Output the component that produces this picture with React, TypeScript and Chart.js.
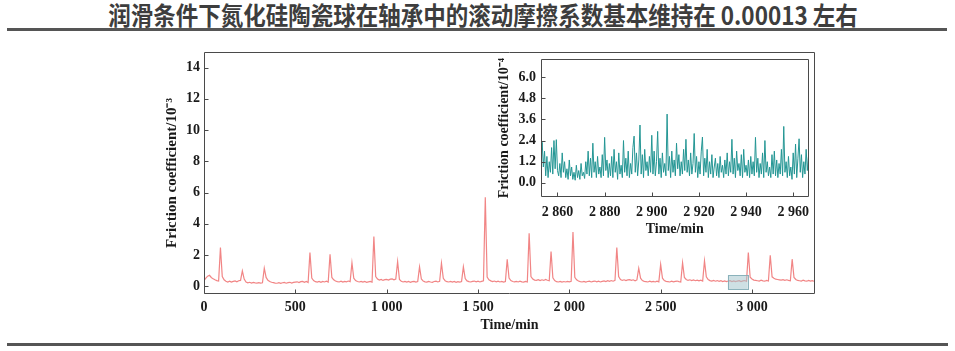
import React, { useEffect, useRef } from "react";
import { Chart, registerables } from "chart.js";
Chart.register(...registerables);

const TITLE = "润滑条件下氮化硅陶瓷球在轴承中的滚动摩擦系数基本维持在 0.00013 左右";
const MAIN_X_TITLE = "Time/min";
const MAIN_Y_TITLE = "Friction coefficient/10⁻³";
const INSET_X_TITLE = "Time/min";
const INSET_Y_TITLE = "Friction coefficient/10⁻⁴";

// main series: friction coefficient (10^-3), one reading every 10 min from 0 min
const MAIN_START = 0;
const MAIN_STEP = 10;
const MAIN_VALUES = [
  0.35, 0.52, 0.64, 0.7, 0.56, 0.47, 0.41, 0.36, 0.33, 2.47,
  0.62, 0.41, 0.32, 0.27, 0.32, 0.26, 0.31, 0.34, 0.28, 0.35,
  0.37, 0.98, 0.46, 0.27, 0.22, 0.25, 0.2, 0.24, 0.21, 0.2,
  0.23, 0.2, 0.22, 1.15, 0.56, 0.38, 0.3, 0.25, 0.23, 0.2,
  0.19, 0.23, 0.18, 0.22, 0.24, 0.19, 0.23, 0.25, 0.2, 0.24,
  0.26, 0.28, 0.23, 0.29, 0.31, 0.25, 0.3, 0.24, 2.15, 0.52,
  0.36, 0.29, 0.26, 0.3, 0.25, 0.31, 0.27, 0.32, 0.26, 2.05,
  0.56, 0.41, 0.33, 0.29, 0.27, 0.32, 0.26, 0.31, 0.28, 0.33,
  0.29, 1.5, 0.51, 0.36, 0.3, 0.27, 0.31, 0.26, 0.3, 0.25,
  0.28, 0.31, 0.26, 3.18, 0.62, 0.46, 0.39, 0.43, 0.37, 0.42,
  0.44, 0.39, 0.45, 0.47, 0.41, 0.46, 1.58, 0.43, 0.32, 0.27,
  0.31, 0.26, 0.3, 0.25, 0.29, 0.31, 0.26, 0.3, 1.24, 0.46,
  0.33, 0.28, 0.26, 0.31, 0.27, 0.25, 0.3, 0.32, 0.27, 0.31,
  1.47, 0.51, 0.35, 0.29, 0.27, 0.31, 0.26, 0.3, 0.25, 0.29,
  0.26, 0.3, 1.24, 0.49, 0.34, 0.29, 0.27, 0.31, 0.33, 0.28,
  0.32, 0.27, 0.31, 0.34, 5.7, 0.58, 0.41, 0.34, 0.29, 0.33,
  0.28, 0.32, 0.27, 0.31, 0.26, 0.3, 1.73, 0.52, 0.36, 0.3,
  0.28, 0.31, 0.27, 0.32, 0.28, 0.26, 0.31, 0.27, 3.39, 0.62,
  0.46, 0.39, 0.37, 0.42, 0.36, 0.41, 0.37, 0.43, 0.38, 0.35,
  2.22, 0.53, 0.36, 0.29, 0.27, 0.31, 0.26, 0.3, 0.27, 0.31,
  0.28, 0.32, 3.47, 0.57, 0.41, 0.33, 0.29, 0.27, 0.31, 0.26,
  0.3, 0.32, 0.27, 0.31, 0.33, 0.28, 0.32, 0.27, 0.31, 0.34,
  0.3, 0.35, 0.31, 0.36, 0.32, 0.37, 2.47, 0.62, 0.43, 0.37,
  0.41, 0.36, 0.4, 0.42, 0.37, 0.41, 0.35, 0.4, 1.15, 0.51,
  0.36, 0.31, 0.29, 0.27, 0.32, 0.28, 0.31, 0.27, 0.32, 0.28,
  1.4, 0.51, 0.36, 0.31, 0.29, 0.27, 0.32, 0.28, 0.31, 0.33,
  0.29, 0.27, 1.5, 0.56, 0.43, 0.37, 0.41, 0.36, 0.4, 0.35,
  0.39, 0.34, 0.38, 0.33, 1.62, 0.6, 0.43, 0.36, 0.33, 0.37,
  0.32, 0.36, 0.31, 0.35, 0.3, 0.34, 0.29, 0.33, 0.35, 0.3,
  0.34, 0.29, 0.33, 0.35, 0.3, 0.34, 0.36, 0.31, 2.15, 0.57,
  0.46, 0.39, 0.37, 0.35, 0.33, 0.38, 0.34, 0.32, 0.37, 0.33,
  1.98, 0.6, 0.51, 0.45, 0.43, 0.41, 0.39, 0.42, 0.38, 0.41,
  0.37, 0.35, 1.73, 0.56, 0.43, 0.37, 0.35, 0.33, 0.38, 0.34,
  0.32, 0.37, 0.33, 0.36, 0.32,
];
const MAIN_X_RANGE = [0, 3345];
const MAIN_Y_RANGE = [-0.5, 15];
const MAIN_X_TICKS = [0, 500, 1000, 1500, 2000, 2500, 3000];
const MAIN_X_TICK_LABELS = ["0", "500", "1 000", "1 500", "2 000", "2 500", "3 000"];
const MAIN_Y_TICKS = [0, 2, 4, 6, 8, 10, 12, 14];
const MAIN_Y_TICK_LABELS = ["0", "2", "4", "6", "8", "10", "12", "14"];
// zoomed window marker
const HIGHLIGHT_X = [2868, 2977];
const HIGHLIGHT_Y = [-0.2, 0.7];

// inset series: friction coefficient (10^-4), one reading every 0.5 min from 2853 min
const INSET_START = 2853;
const INSET_STEP = 0.5;
const INSET_VALUES = [
  1.6, 2.3, 0.9, 1.8, 0.4, 1.5, 0.3, 1.2, 0.6, 2.0, 0.5, 2.4, 0.8, 2.45, 0.7, 0.4, 1.1, 0.3, 1.7, 0.6,
  1.2, 0.3, 0.8, 0.2, 1.3, 0.4, 0.9, 0.2, 0.6, 0.15, 1.0, 0.3, 0.7, 0.2, 1.1, 0.4, 0.6, 0.25, 1.2, 0.5,
  1.8, 0.4, 1.4, 0.3, 2.25, 0.6, 1.2, 0.3, 1.5, 0.5, 0.9, 0.3, 1.6, 0.4, 2.58, 0.7, 1.3, 0.3, 1.1, 0.4,
  1.5, 0.3, 1.9, 0.6, 1.2, 0.2, 1.7, 0.5, 1.0, 0.3, 2.4, 0.6, 1.4, 0.4, 1.8, 0.3, 1.1, 0.5, 2.0, 2.65,
  0.6, 1.7, 0.4, 1.3, 3.28, 0.5, 1.6, 0.3, 1.9, 0.7, 1.2, 0.4, 1.5, 0.6, 2.7, 0.5, 1.8, 0.4, 1.2, 2.92,
  0.5, 1.4, 0.3, 1.7, 0.6, 1.1, 0.4, 3.9, 0.7, 1.5, 0.3, 1.8, 0.6, 1.3, 0.4, 2.25, 0.8, 1.6, 0.4, 1.2,
  0.5, 1.9, 0.7, 2.47, 0.6, 1.3, 0.4, 1.7, 0.5, 1.1, 2.8, 0.6, 1.5, 0.3, 1.2, 0.5, 1.8, 2.6, 0.4, 1.4,
  0.6, 1.9, 0.3, 1.2, 0.5, 1.6, 0.3, 0.9, 1.4, 0.4, 1.1, 0.3, 1.5, 0.6, 1.0, 0.3, 1.3, 0.5, 1.7, 0.4,
  1.2, 0.6, 2.47, 0.5, 1.4, 0.3, 1.8, 0.7, 1.1, 0.4, 1.6, 0.3, 1.9, 0.6, 1.0, 0.4, 1.3, 0.3, 1.5, 0.5,
  1.2, 0.4, 2.58, 0.6, 1.4, 0.3, 1.1, 0.5, 1.7, 0.3, 2.4, 0.6, 1.2, 0.4, 0.9, 0.3, 1.6, 0.5, 1.8, 0.4,
  1.3, 0.3, 1.1, 0.5, 1.9, 0.4, 3.2, 0.6, 1.2, 0.3, 1.5, 0.4, 0.9, 0.2, 1.7, 0.5, 2.2, 0.3, 1.4, 2.5,
  0.6, 1.6, 0.3, 1.2, 0.5, 1.9, 0.7, 1.5, 0.6,
];
const INSET_X_RANGE = [2853, 2966.5];
const INSET_Y_RANGE = [-0.8, 7.0];
const INSET_X_TICKS = [2860, 2880, 2900, 2920, 2940, 2960];
const INSET_X_TICK_LABELS = ["2 860", "2 880", "2 900", "2 920", "2 940", "2 960"];
const INSET_Y_TICKS = [0, 1.2, 2.4, 3.6, 4.8, 6.0];
const INSET_Y_TICK_LABELS = ["0.0", "1.2", "2.4", "3.6", "4.8", "6.0"];

const SERIF = "'Liberation Serif', 'Times New Roman', serif";
const AXIS_COLOR = "#4a4a4a";
const TEXT_COLOR = "#1a1a1a";

function framePlugin(xTicks: number[], yTicks: number[], extra?: (chart: any) => void, bg?: (chart: any) => void) {
  return {
    id: "frame",
    beforeDraw(chart: any) {
      if (bg) bg(chart);
    },
    afterDatasetsDraw(chart: any) {
      if (extra) extra(chart);
    },
    afterDraw(chart: any) {
      const { ctx, chartArea: a, scales } = chart;
      const L = Math.round(a.left) + 0.5;
      const R = Math.round(a.right) - 0.5;
      const T = Math.round(a.top) + 0.5;
      const B = Math.round(a.bottom) - 0.5;
      ctx.save();
      ctx.strokeStyle = AXIS_COLOR;
      ctx.lineWidth = 1;
      ctx.beginPath();
      ctx.rect(L, T, R - L, B - T);
      ctx.stroke();
      ctx.beginPath();
      for (const v of xTicks) {
        const px = Math.round(scales.x.getPixelForValue(v)) + 0.5;
        ctx.moveTo(px, B);
        ctx.lineTo(px, B - 4);
      }
      for (const v of yTicks) {
        const py = Math.round(scales.y.getPixelForValue(v)) + 0.5;
        ctx.moveTo(L, py);
        ctx.lineTo(L + 4, py);
      }
      ctx.stroke();
      ctx.restore();
    },
  };
}

function makeScales(o: {
  xRange: number[]; yRange: number[]; xTicks: number[]; xLabels: string[]; yTicks: number[]; yLabels: string[];
  xTitle: string; yTitle: string; yWidth: number; xHeight: number; tickSize: number; xTitleSize: number; yTitleSize: number;
  yTitlePad: number; xTitlePad: number; xTickPad: number; yTickPad: number;
}) {
  const tickFont = { family: SERIF, weight: "bold" as const, size: o.tickSize };
  return {
    x: {
      type: "linear" as const,
      min: o.xRange[0],
      max: o.xRange[1],
      grid: { display: false, drawTicks: false },
      border: { display: false },
      afterBuildTicks: (s: any) => { s.ticks = o.xTicks.map((v) => ({ value: v })); },
      afterFit: (s: any) => { s.height = o.xHeight; },
      ticks: {
        autoSkip: false, maxRotation: 0, padding: o.xTickPad, color: TEXT_COLOR, font: tickFont,
        callback: (_v: any, i: number) => o.xLabels[i],
      },
      title: {
        display: true, text: o.xTitle, color: TEXT_COLOR,
        font: { family: SERIF, weight: "bold" as const, size: o.xTitleSize, lineHeight: 1.2 },
        padding: { top: 0, bottom: o.xTitlePad },
      },
    },
    y: {
      type: "linear" as const,
      min: o.yRange[0],
      max: o.yRange[1],
      grid: { display: false, drawTicks: false },
      border: { display: false },
      afterBuildTicks: (s: any) => { s.ticks = o.yTicks.map((v) => ({ value: v })); },
      afterFit: (s: any) => { s.width = o.yWidth; },
      ticks: {
        autoSkip: false, padding: o.yTickPad, color: TEXT_COLOR, font: tickFont,
        callback: (_v: any, i: number) => o.yLabels[i],
      },
      title: {
        display: true, text: o.yTitle, color: TEXT_COLOR,
        font: { family: SERIF, weight: "bold" as const, size: o.yTitleSize, lineHeight: 1.2 },
        padding: { top: o.yTitlePad, bottom: 0 },
      },
    },
  };
}

export default function App() {
  const mainRef = useRef<HTMLCanvasElement>(null);
  const insetRef = useRef<HTMLCanvasElement>(null);

  useEffect(() => {
    const mainData = MAIN_VALUES.map((v, i) => ({ x: MAIN_START + i * MAIN_STEP, y: v }));
    const insetData = INSET_VALUES.map((v, i) => ({ x: INSET_START + i * INSET_STEP, y: v }));

    const highlight = (chart: any) => {
      const { ctx, scales } = chart;
      const x0 = scales.x.getPixelForValue(HIGHLIGHT_X[0]);
      const x1 = scales.x.getPixelForValue(HIGHLIGHT_X[1]);
      const y0 = scales.y.getPixelForValue(HIGHLIGHT_Y[1]);
      const y1 = scales.y.getPixelForValue(HIGHLIGHT_Y[0]);
      ctx.save();
      ctx.fillStyle = "rgba(165,198,205,0.55)";
      ctx.strokeStyle = "rgba(130,172,182,0.9)";
      ctx.lineWidth = 1;
      ctx.fillRect(x0, y0, x1 - x0, y1 - y0);
      ctx.strokeRect(Math.round(x0) + 0.5, Math.round(y0) + 0.5, Math.round(x1 - x0), Math.round(y1 - y0));
      ctx.restore();
    };

    const main = new Chart(mainRef.current!, {
      type: "line",
      data: {
        datasets: [{
          data: mainData,
          borderColor: "rgba(236,86,86,0.72)",
          borderWidth: 1.2,
          pointRadius: 0,
          tension: 0,
          fill: false,
        }],
      },
      options: {
        responsive: false,
        animation: false,
        events: [],
        parsing: false as any,
        layout: { padding: { left: 160, right: 140, top: 52, bottom: 10 } },
        plugins: { legend: { display: false }, tooltip: { enabled: false } },
        scales: makeScales({
          xRange: MAIN_X_RANGE, yRange: MAIN_Y_RANGE, xTicks: MAIN_X_TICKS, xLabels: MAIN_X_TICK_LABELS,
          yTicks: MAIN_Y_TICKS, yLabels: MAIN_Y_TICK_LABELS, xTitle: MAIN_X_TITLE, yTitle: MAIN_Y_TITLE,
          yWidth: 44, xHeight: 47, tickSize: 14, xTitleSize: 14, yTitleSize: 15,
          yTitlePad: 3, xTitlePad: 7, xTickPad: 5, yTickPad: 4,
        }) as any,
      },
      plugins: [framePlugin(MAIN_X_TICKS, MAIN_Y_TICKS, highlight)],
    });

    const whiteBg = (chart: any) => {
      const { ctx, chartArea: a } = chart;
      ctx.save();
      ctx.fillStyle = "#ffffff";
      ctx.fillRect(0, Math.round(a.top) + 1, Math.round(a.right) - 1, 168);
      ctx.restore();
    };

    const inset = new Chart(insetRef.current!, {
      type: "line",
      data: {
        datasets: [{
          data: insetData,
          borderColor: "rgb(36,150,148)",
          borderWidth: 1,
          pointRadius: 0,
          tension: 0,
          fill: false,
        }],
      },
      options: {
        responsive: false,
        animation: false,
        events: [],
        parsing: false as any,
        layout: { padding: { left: 2, right: 1, top: 6, bottom: 0 } },
        plugins: { legend: { display: false }, tooltip: { enabled: false } },
        scales: makeScales({
          xRange: INSET_X_RANGE, yRange: INSET_Y_RANGE, xTicks: INSET_X_TICKS, xLabels: INSET_X_TICK_LABELS,
          yTicks: INSET_Y_TICKS, yLabels: INSET_Y_TICK_LABELS, xTitle: INSET_X_TITLE, yTitle: INSET_Y_TITLE,
          yWidth: 51, xHeight: 48, tickSize: 14, xTitleSize: 14, yTitleSize: 14,
          yTitlePad: 6, xTitlePad: 7, xTickPad: 7, yTickPad: 5,
        }) as any,
      },
      plugins: [framePlugin(INSET_X_TICKS, INSET_Y_TICKS, undefined, whiteBg)],
    });

    return () => {
      main.destroy();
      inset.destroy();
    };
  }, []);

  return (
    <div style={{ position: "absolute", left: 0, top: 0, width: 955, height: 351, background: "#fff", overflow: "hidden" }}>
      <div
        style={{
          position: "absolute", left: 483, top: -1, height: 30, lineHeight: "30px",
          transform: "translateX(-50%) scaleX(0.9)", transformOrigin: "center",
          fontFamily: "'Noto Sans CJK SC', sans-serif", fontWeight: 700, fontSize: 25, color: "#3d3d3d", whiteSpace: "nowrap",
        }}
      >
        {TITLE}
      </div>
      <div style={{ position: "absolute", left: 7, top: 28, width: 940, height: 3, background: "#555" }} />
      <div style={{ position: "absolute", left: 7, top: 343, width: 941, height: 3, background: "#555" }} />
      <canvas ref={mainRef} width={955} height={351} style={{ position: "absolute", left: 0, top: 0, display: "block" }} />
      <canvas ref={insetRef} width={328} height={199} style={{ position: "absolute", left: 488, top: 46, display: "block" }} />
    </div>
  );
}
